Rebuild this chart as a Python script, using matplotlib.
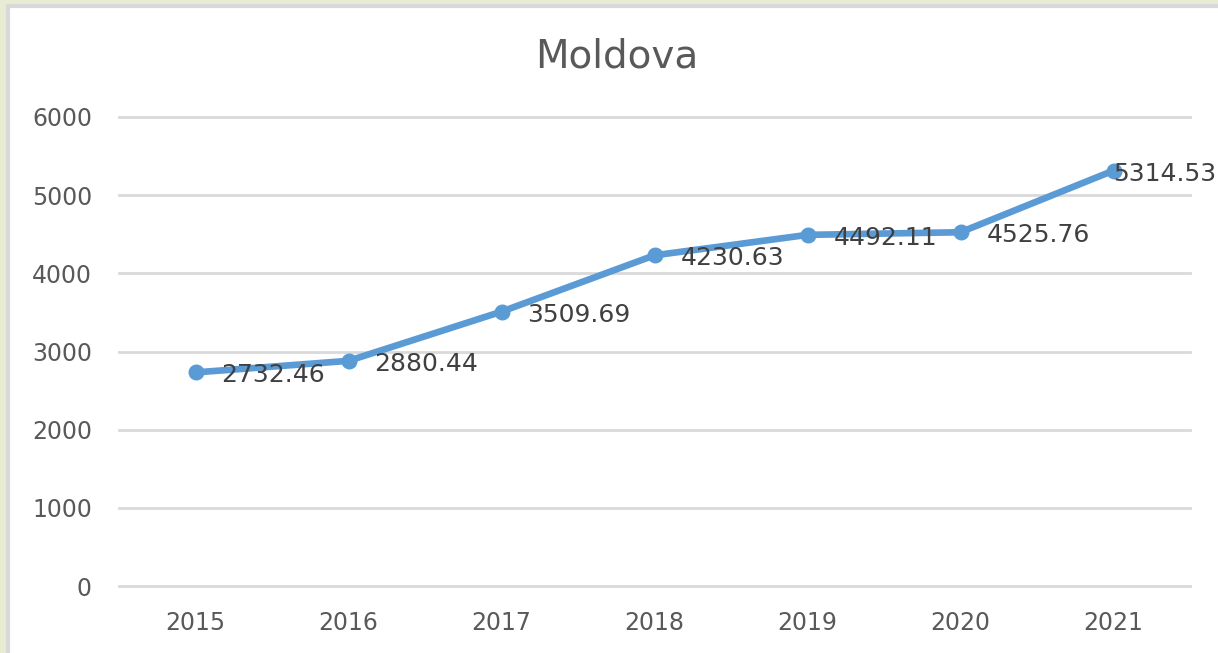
import matplotlib
matplotlib.use("Agg")
import matplotlib.pyplot as plt
from matplotlib.patches import Rectangle

# ── data ──────────────────────────────────────────────────────────────────────
years  = ["2015", "2016", "2017", "2018", "2019", "2020", "2021"]
values = [2732.46, 2880.44, 3509.69, 4230.63, 4492.11, 4525.76, 5314.53]
yticks = [0, 1000, 2000, 3000, 4000, 5000, 6000]

W, H = 1218, 653
plt.rcParams["font.family"] = ["DejaVu Sans"]

fig = plt.figure(figsize=(W / 100, H / 100), dpi=100)
fig.patch.set_facecolor("#E7ECD2")

# white chart area with light grey frame (runs off right/bottom edges)
fig.patches.append(Rectangle((8 / W, -0.05), 1.1, 1.05 - 6 / H, transform=fig.transFigure,
                             facecolor="white", edgecolor="#D9D9D9", linewidth=3, zorder=-1))

# plot area: x 119..1190 px, y(6000)=117 px, y(0)=586 px
ax = fig.add_axes([119 / W, 1 - 586 / H, (1190 - 119) / W, (586 - 117) / H])
ax.set_facecolor("none")

x = list(range(len(years)))
ax.plot(x, values, color="#5B9BD5", linewidth=4.8, marker="o", markersize=10.5,
        solid_capstyle="round", zorder=3)

for i, v in enumerate(values):
    dx = 26 if i < len(values) - 1 else 0
    ax.annotate(f"{v:.2f}", (i, v), xytext=(dx, -3), textcoords="offset pixels",
                ha="left", va="center", fontsize=18, color="#404040", zorder=4,
                annotation_clip=False)

ax.set_xlim(-0.5, len(years) - 0.5)
ax.set_ylim(0, 6000)
ax.set_yticks(yticks)
ax.set_xticks(x)
ax.set_xticklabels(years)
ax.grid(axis="y", color="#D9D9D9", linewidth=2)
for gl in ax.get_ygridlines():
    gl.set_clip_on(False)
ax.set_axisbelow(True)
for s in ax.spines.values():
    s.set_visible(False)
ax.tick_params(axis="y", length=0, labelsize=17, labelcolor="#595959", pad=19.5)
ax.tick_params(axis="x", length=0, labelsize=17, labelcolor="#595959", pad=18)

fig.text(617 / W, 1 - 57 / H, "Moldova", ha="center", va="center",
         fontsize=28, color="#595959")

plt.savefig("out.png", dpi=100)
